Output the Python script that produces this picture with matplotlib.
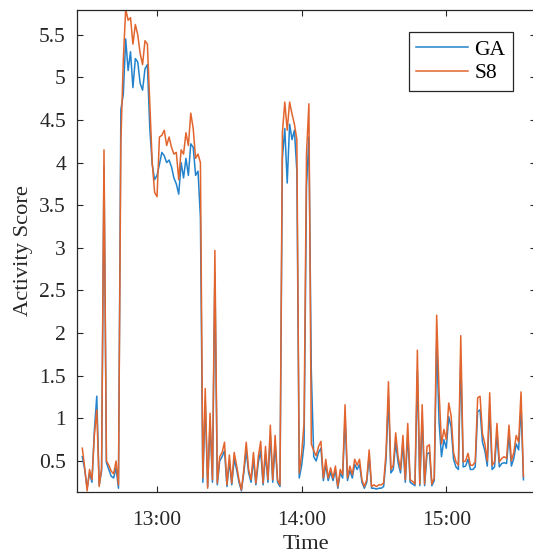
import numpy as np
import matplotlib
matplotlib.use("Agg")
import matplotlib.pyplot as plt
from matplotlib.ticker import FixedLocator, FixedFormatter

# ---- data (one sample per minute, starting 12:29) ----
start_minute = 29  # minutes after 12:00
s8 = [0.65, 0.42, 0.15, 0.40, 0.28, 0.80, 1.10, 0.20, 0.42, 4.15,
      0.50, 0.45, 0.38, 0.35, 0.50, 0.22, 4.25, 5.20, 5.80, 5.67,
      5.70, 5.39, 5.62, 5.50, 5.28, 5.15, 5.43, 5.39, 4.70, 4.00,
      3.65, 3.60, 4.30, 4.32, 4.38, 4.20, 4.30, 4.18, 4.10, 4.12,
      3.80, 4.15, 4.10, 4.35, 4.20, 4.58, 4.40, 4.05, 4.10, 4.00,
      0.30, 1.35, 0.18, 1.06, 0.28, 2.97, 0.24, 0.55, 0.60, 0.72,
      0.22, 0.57, 0.24, 0.60, 0.45, 0.28, 0.16, 0.40, 0.72, 0.40,
      0.28, 0.60, 0.24, 0.55, 0.73, 0.24, 0.67, 0.28, 0.92, 0.28,
      0.80, 0.28, 0.22, 4.35, 4.71, 4.38, 4.71, 4.57, 4.45, 4.27,
      0.36, 0.59, 0.95, 4.10, 4.69, 0.70, 0.62, 0.56, 0.67, 0.73,
      0.30, 0.52, 0.30, 0.42, 0.30, 0.44, 0.20, 0.40, 0.34, 1.16,
      0.30, 0.44, 0.34, 0.52, 0.45, 0.52, 0.28, 0.20, 0.28, 0.63,
      0.20, 0.22, 0.20, 0.22, 0.22, 0.24, 0.60, 1.43, 0.40, 0.45,
      0.83, 0.55, 0.40, 0.80, 0.28, 0.94, 0.28, 0.26, 0.23, 1.80,
      0.23, 1.16, 0.23, 0.67, 0.69, 0.23, 0.30, 2.21, 1.31, 0.70,
      0.87, 0.75, 1.18, 1.03, 0.60, 0.49, 0.45, 1.97, 0.49, 0.50,
      0.59, 0.45, 0.45, 0.49, 1.24, 1.26, 0.82, 0.70, 0.50, 1.30,
      0.45, 0.49, 0.94, 0.49, 0.53, 0.55, 0.53, 0.92, 0.50, 0.60,
      0.80, 0.72, 1.31, 0.32]
ga = [0.55, 0.40, 0.18, 0.36, 0.25, 0.85, 1.26, 0.22, 0.38, 3.95,
      0.48, 0.40, 0.32, 0.30, 0.42, 0.18, 4.62, 4.80, 5.45, 5.08,
      5.30, 4.88, 5.22, 5.18, 4.93, 4.85, 5.10, 5.15, 4.40, 3.98,
      3.80, 3.85, 3.98, 4.12, 4.08, 4.00, 4.03, 3.95, 3.82, 3.75,
      3.63, 4.00, 3.82, 4.05, 3.85, 4.22, 4.18, 3.85, 3.90, 3.35,
      0.25, 1.20, 0.20, 0.95, 0.25, 2.70, 0.22, 0.50, 0.55, 0.62,
      0.20, 0.50, 0.22, 0.52, 0.40, 0.25, 0.15, 0.36, 0.62, 0.36,
      0.25, 0.52, 0.22, 0.48, 0.62, 0.22, 0.58, 0.25, 0.80, 0.25,
      0.70, 0.25, 0.20, 4.05, 4.40, 3.76, 4.45, 4.27, 4.38, 3.90,
      0.30, 0.45, 0.70, 3.71, 4.30, 1.55, 0.55, 0.50, 0.60, 0.65,
      0.27, 0.46, 0.27, 0.37, 0.27, 0.39, 0.18, 0.36, 0.30, 1.02,
      0.27, 0.39, 0.30, 0.46, 0.40, 0.46, 0.25, 0.18, 0.25, 0.56,
      0.18, 0.18, 0.17, 0.18, 0.18, 0.20, 0.52, 1.25, 0.36, 0.40,
      0.72, 0.48, 0.36, 0.70, 0.25, 0.82, 0.25, 0.23, 0.21, 1.55,
      0.21, 1.00, 0.21, 0.58, 0.60, 0.21, 0.27, 1.90, 0.95, 0.55,
      0.75, 0.65, 1.02, 0.90, 0.52, 0.43, 0.40, 1.70, 0.43, 0.44,
      0.52, 0.40, 0.40, 0.43, 1.08, 1.10, 0.72, 0.62, 0.44, 1.13,
      0.40, 0.43, 0.82, 0.43, 0.47, 0.48, 0.47, 0.80, 0.44, 0.53,
      0.70, 0.63, 1.14, 0.28]
series_names = ["GA", "S8"]
xtick_minutes = [60, 120, 180]
xtick_labels = ["13:00", "14:00", "15:00"]
ytick_values = [0.5, 1, 1.5, 2, 2.5, 3, 3.5, 4, 4.5, 5, 5.5]
ytick_labels = ["0.5", "1", "1.5", "2", "2.5", "3", "3.5", "4", "4.5", "5", "5.5"]

minutes = start_minute + np.arange(len(s8))

plt.rcParams['font.family'] = ['Liberation Serif', 'DejaVu Serif']
fs = 15.5
fs_lab = 16.2
W, H = 533, 557
fig = plt.figure(figsize=(W / 100, H / 100), dpi=100)
ax = fig.add_axes([77 / W, 1 - 492 / H, (535.5 - 77) / W, (492 - 10) / H])

c_ga = "#2283cc"
c_s8 = "#e2652e"
ax.plot(minutes, ga, color=c_ga, lw=1.1, label=series_names[0])
ax.plot(minutes, s8, color=c_s8, lw=1.1, label=series_names[1])

ax.set_xlim(26.8, 217.0)
ax.set_ylim(0.136, 5.79)
ax.xaxis.set_major_locator(FixedLocator(xtick_minutes))
ax.xaxis.set_major_formatter(FixedFormatter(xtick_labels))
ax.yaxis.set_major_locator(FixedLocator(ytick_values))
ax.yaxis.set_major_formatter(FixedFormatter(ytick_labels))

edge = "#262626"
for s in ax.spines.values():
    s.set_color(edge)
    s.set_linewidth(0.9)
ax.tick_params(direction="in", top=True, right=True, length=4, width=0.8,
               color=edge, labelsize=fs, labelcolor=edge)
ax.tick_params(axis="x", pad=14)
ax.tick_params(axis="y", pad=8)

ax.set_xlabel("Time", fontsize=fs_lab, color=edge, labelpad=3)
ax.set_ylabel("Activity Score", fontsize=fs_lab, color=edge, labelpad=4)

leg = ax.legend(loc="upper right", bbox_to_anchor=(0.951, 0.954),
                borderaxespad=0, fancybox=False, edgecolor=edge,
                framealpha=1, fontsize=fs, handlelength=2.4,
                handletextpad=0.3, borderpad=0.35, labelspacing=0.15)
leg.get_frame().set_linewidth(0.9)

fig.savefig("out.png", dpi=100)
